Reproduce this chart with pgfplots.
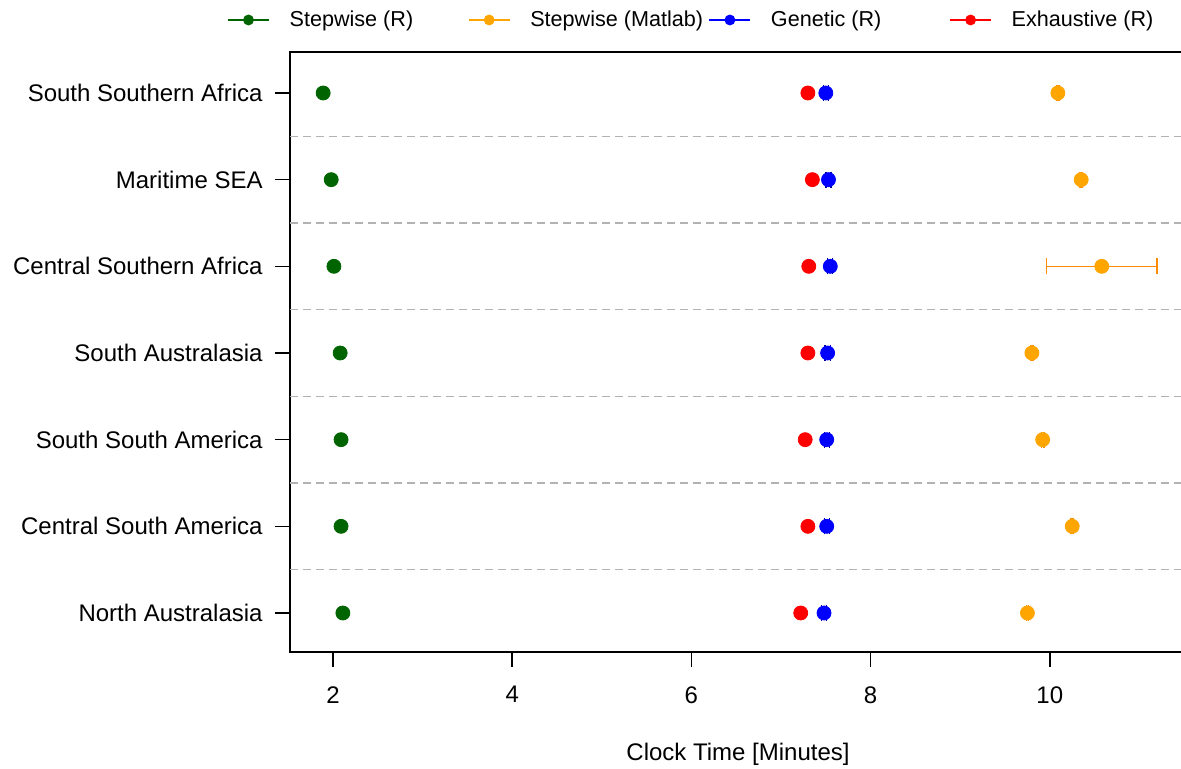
\documentclass[border=0pt]{standalone}
\usepackage{fontspec}
\setmainfont{Liberation Sans}
\usepackage{pgfplots}
\pgfplotsset{compat=1.18}
\usepackage{pgfplotstable}

\definecolor{cgreen}{RGB}{0,100,0}
\definecolor{corange}{RGB}{255,165,0}
\definecolor{corangeline}{RGB}{255,140,0}
\definecolor{cblue}{RGB}{0,0,255}
\definecolor{cbluedark}{RGB}{0,0,150}
\definecolor{cred}{RGB}{255,0,0}

\pgfplotstableread{
y x
7 1.89
6 1.98
5 2.01
4 2.08
3 2.09
2 2.09
1 2.11
}\stepR

\pgfplotstableread{
y x ex
7 10.09 0.012
6 10.35 0.012
5 10.58 0.615
4 9.80 0.012
3 9.92 0.012
2 10.25 0.012
1 9.75 0.012
}\stepM

\pgfplotstableread{
y x ex
7 7.50 0.028
6 7.53 0.028
5 7.55 0.028
4 7.52 0.028
3 7.51 0.028
2 7.51 0.028
1 7.48 0.028
}\genR

\pgfplotstableread{
y x
7 7.30
6 7.35
5 7.31
4 7.30
3 7.27
2 7.30
1 7.22
}\exhR

\begin{document}
\fontsize{12}{14}\selectfont
\begin{tikzpicture}
\begin{axis}[
  scale only axis, width=448pt, height=300pt,
  xmin=1.52, xmax=11.52, ymin=0.55, ymax=7.473,
  xtick={2,4,6,8,10},
  ytick={1,2,3,4,5,6,7},
  yticklabels={North Australasia, Central South America, South South America, South Australasia, Central Southern Africa, Maritime SEA, South Southern Africa},
  tick align=outside, xtick pos=left, ytick pos=left,
  major tick length=7.5pt,
  tick style={black, line width=0.75pt},
  axis line style={line width=0.75pt},
  yticklabel style={xshift=-2pt},
  xticklabel style={yshift=-5.5pt},
  extra y ticks={1.5,2.5,3.5,4.5,5.5,6.5},
  extra y tick labels={},
  extra y tick style={major tick length=0pt, grid=major, major grid style={black!30, dash pattern=on 4pt off 2.5pt, line width=0.6pt}},
  xlabel={Clock Time [Minutes]},
  xlabel style={at={(axis description cs:0.5,0)}, anchor=center, yshift=-51pt},
  /pgf/number format/assume math mode=true,
  legend columns=4,
  legend cell align=left,
  legend style={draw=none, fill=none, at={(0,1)}, anchor=west, xshift=-31.5pt, yshift=16pt, inner sep=0pt, column sep=0pt, nodes={inner sep=0pt}, font=\fontsize{10.8}{13}\selectfont},
  legend image code/.code={\draw[#1, mark=none, line width=0.6pt] (0pt,0pt) -- (20.5pt,0pt); \draw[#1, only marks, mark size=2.5pt] plot coordinates {(10.25pt,0pt)};},
  mark size=3.5pt,
]
\addplot[only marks, mark=*, color=cgreen] table[x=x, y=y] {\stepR};
\addlegendentry{\makebox[99.25pt][l]{\hspace*{10pt}Stepwise (R)}}
\addplot[only marks, mark=*, color=corange] table[x=x, y=y] {\stepM};
\addlegendentry{\makebox[99.25pt][l]{\hspace*{10pt}Stepwise (Matlab)}}
\addplot[only marks, mark=*, color=cblue] table[x=x, y=y] {\genR};
\addlegendentry{\makebox[99.25pt][l]{\hspace*{10pt}Genetic (R)}}
\addplot[only marks, mark=*, color=cred] table[x=x, y=y] {\exhR};
\addlegendentry{\makebox[99.25pt][l]{\hspace*{10pt}Exhaustive (R)}}
\addplot[forget plot, mark=none, draw=none,
  error bars/.cd, x dir=both, x explicit,
  error bar style={draw=cbluedark, line width=0.6pt},
  error mark options={draw=cbluedark, line width=0.6pt, mark size=4pt, rotate=90}]
  table[x=x, y=y, x error=ex] {\genR};
\addplot[forget plot, mark=none, draw=none,
  error bars/.cd, x dir=both, x explicit,
  error bar style={draw=corangeline, line width=0.8pt},
  error mark options={draw=corangeline, line width=0.8pt, mark size=4pt, rotate=90}]
  table[x=x, y=y, x error=ex] {\stepM};
\end{axis}
\pgfresetboundingbox
\path[use as bounding box] (-145pt,-58.5pt) rectangle (445.5pt,326pt);
\end{tikzpicture}
\end{document}
